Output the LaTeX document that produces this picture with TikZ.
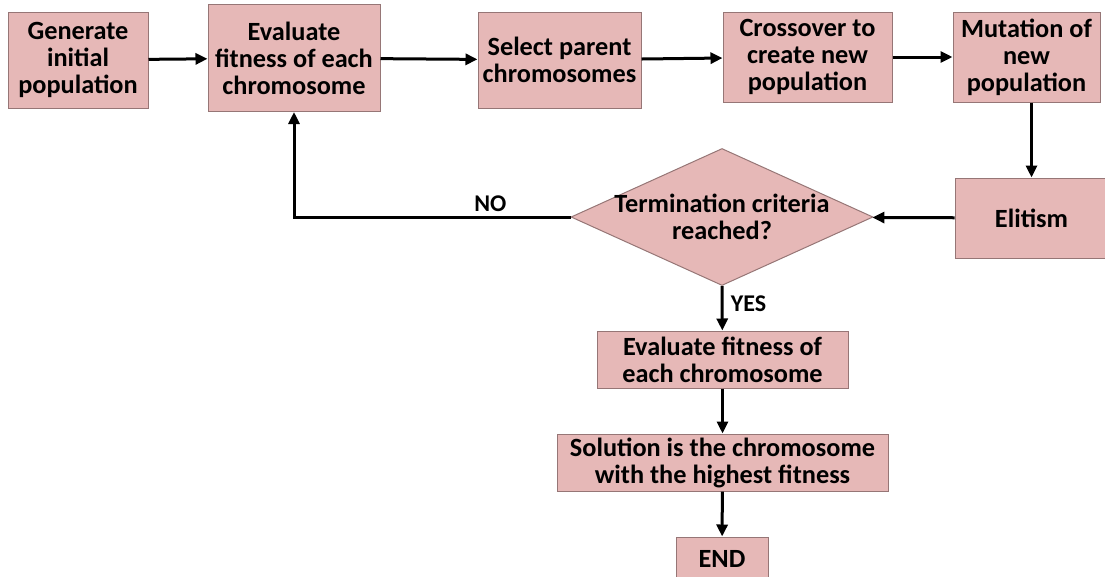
\documentclass[tikz,border=0pt]{standalone}
\usepackage{fontspec}
\setmainfont{Carlito}
\usetikzlibrary{shapes.geometric,arrows.meta}

\definecolor{boxfill}{HTML}{E6B8B7}
\definecolor{boxline}{RGB}{150,118,118}

\tikzset{
  box/.style={draw=boxline, fill=boxfill, line width=1pt, align=center, inner sep=0pt,
    font=\fontsize{26.3}{27}\selectfont\bfseries},
  decision/.style={diamond, draw=boxline, fill=boxfill, line width=1pt, inner sep=0pt,
    minimum width=302pt, minimum height=137pt},
  flow/.style={-{Triangle[length=12pt,width=11pt]}, line width=3pt},
  answer/.style={font=\fontsize{24}{26}\selectfont\bfseries}
}

\begin{document}
\begin{tikzpicture}[x=1pt,y=-1pt]
\useasboundingbox (0,0) rectangle (1105,576);

% top row
\node[box, minimum width=140pt, minimum height=96pt]  (init)   at (78,60)   {Generate\\initial\\population};
\node[box, minimum width=172pt, minimum height=107pt] (eval)   at (294,58)  {Evaluate\\fitness of each\\chromosome};
\node[box, minimum width=163pt, minimum height=96pt]  (select) at (559.5,60) {Select parent\\chromosomes};
\node[box, minimum width=169pt, minimum height=90pt]  (cross)  at (807.5,57) {Crossover to\\create new\\population};
\node[box, minimum width=147pt, minimum height=90pt]  (mutate) at (1026.5,57) {Mutation of\\new\\population};

% right column and decision
\node[box, minimum width=153pt, minimum height=80pt]  (elite)  at (1031.5,218) {Elitism};
\node[decision, label={[box, draw=none, fill=none]center:Termination criteria\\reached?}] (term) at (722,217) {};

% bottom column
\node[box, minimum width=251pt, minimum height=57pt] (evalall) at (722.5,359.5) {Evaluate fitness of\\each chromosome};
\node[box, minimum width=331pt, minimum height=57pt] (best)    at (722.5,462.5) {Solution is the chromosome\\with the highest fitness};
\node[box, minimum width=92pt,  minimum height=43pt] (stop)    at (722,558.5)   {END};

\draw[flow] (init) -- (eval);
\draw[flow] (eval) -- (select);
\draw[flow] (select) -- (cross);
\draw[flow] (cross) -- (mutate);
\draw[flow] (mutate.south -| elite) -- (elite);
\draw[flow] (elite) -- (term);
\draw[flow] (term.west) -| node[answer, pos=0.145, above=1pt] {NO} (eval.south);
\draw[flow] (term.south) -- node[answer, right=4pt, pos=0.4] {YES} (evalall);
\draw[flow] (evalall) -- (best);
\draw[flow] (best) -- (stop);
\end{tikzpicture}
\end{document}
